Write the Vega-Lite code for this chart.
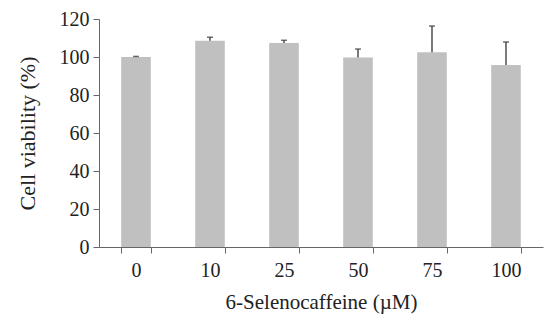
{
  "$schema": "https://vega.github.io/schema/vega-lite/v6.json",
  "width": 444,
  "height": 228,
  "autosize": {"type": "none"},
  "padding": {"left": 99, "top": 19, "right": 7, "bottom": 76},
  "background": "white",
  "config": {"view": {"stroke": null}, "font": "Liberation Serif", "axis": {"labelOverlap": false}},
  "data": {"values": [
    {"dose": "0", "viability": 100, "upper": 100.3},
    {"dose": "10", "viability": 108.6, "upper": 110.4},
    {"dose": "25", "viability": 107.4, "upper": 108.8},
    {"dose": "50", "viability": 99.8, "upper": 104.2},
    {"dose": "75", "viability": 102.5, "upper": 116.3},
    {"dose": "100", "viability": 95.8, "upper": 107.9}
  ]},
  "encoding": {
    "x": {"field": "dose", "type": "nominal", "sort": null,
      "scale": {"paddingInner": 0.6, "paddingOuter": 0.3},
      "axis": {"title": "6-Selenocaffeine (\u00b5M)", "labelAngle": 0, "tickBand": "extent",
        "labelFont": "Liberation Serif", "titleFont": "Liberation Serif", "labelFontSize": 20, "titleFontSize": 21,
        "titleFontWeight": "normal", "labelColor": "#222", "titleColor": "#222",
        "domainColor": "#666", "tickColor": "#666", "tickSize": 6, "labelPadding": 7, "titlePadding": 11, "grid": false}},
    "y": {"field": "viability", "type": "quantitative",
       "scale": {"domain": [0, 120]},
       "axis": {"title": "Cell viability (%)", "values": [0, 20, 40, 60, 80, 100, 120], "grid": false, "labelOverlap": false,
         "labelFont": "Liberation Serif", "titleFont": "Liberation Serif", "labelFontSize": 20, "titleFontSize": 22,
         "titleFontWeight": "normal", "labelColor": "#222", "titleColor": "#222",
         "domainColor": "#666", "tickColor": "#666", "tickSize": 6, "labelPadding": 4, "titlePadding": 20}}
  },
  "layer": [
    {"mark": {"type": "bar", "color": "#c0c0c0"}},
    {"mark": {"type": "rule", "color": "#333", "strokeWidth": 1.3},
     "encoding": {"y2": {"field": "upper"}}},
    {"mark": {"type": "tick", "color": "#333", "size": 6, "thickness": 1.5, "orient": "horizontal"},
     "encoding": {"y": {"field": "upper", "type": "quantitative"}}}
  ]
}
